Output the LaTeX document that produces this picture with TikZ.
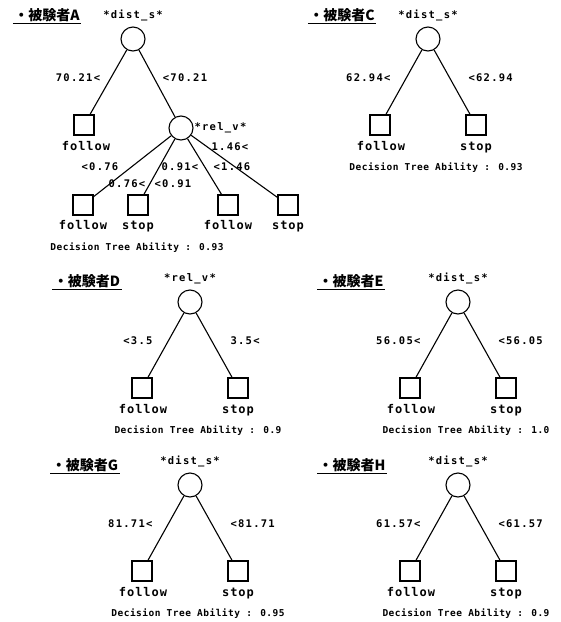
\documentclass[tikz,border=0pt]{standalone}
\usepackage{fontspec}
\newfontfamily\jpfont{Noto Sans CJK JP}
\newfontfamily\treefont[LetterSpace=12]{DejaVu Sans Mono}
\newfontfamily\wordfont[LetterSpace=8]{DejaVu Sans Mono}
\newfontfamily\accfont[LetterSpace=5]{DejaVu Sans Mono}
\usetikzlibrary{positioning}

\begin{document}
\begin{tikzpicture}[x=1pt,y=-1pt,line width=1.1pt,
 knot/.style={circle,draw,minimum size=24pt,inner sep=0pt},
 leaf/.style={rectangle,draw,minimum size=20pt,inner sep=0pt},
 lbl/.style={font=\treefont\bfseries\fontsize{10.5}{11}\selectfont,inner sep=0pt,text height=7.5pt,text depth=2pt},
 word/.style={font=\wordfont\bfseries\fontsize{12}{12}\selectfont,inner sep=0pt,text height=9pt,text depth=2.5pt},
 acc/.style={font=\accfont\bfseries\fontsize{9.5}{10}\selectfont,inner sep=0pt},
 ttl/.style={font=\jpfont\bfseries\fontsize{14}{14}\selectfont,inner sep=1pt},
 edge/.style={line width=1.1pt}]
\useasboundingbox (0,0) rectangle (561,622);
% subject A: two levels
\node[ttl] (tA) at (47,15) {・被験者A};
\draw[line width=.6pt] (tA.south west) -- (tA.south east);
\node[lbl] (vA) at (133,16) {*dist\_s*};
\node[knot] (rA) at (133,39) {};
\node[leaf] (fA) at (84,125) {};
\node[word] (wA) at (86,147) {follow};
\node[knot] (kA) at (181,128) {};
\node[lbl,anchor=west] (vkA) at (194,128) {*rel\_v*};
\draw[edge] (rA) -- (fA);
\draw[edge] (rA) -- (kA);
\node[lbl] (loA) at (78,79) {70.21<};
\node[lbl] (hiA) at (185,79) {<70.21};
\foreach \i/\lx/\w in {1/83/follow,2/138/stop,3/228/follow,4/288/stop} {
  \node[leaf] (qA\i) at (\lx,205) {};
  \node[word] (wA\i) at (\lx,226) {\w};
  \draw[edge] (kA) -- (qA\i);
}
\node[lbl] (b1A) at (100,168) {<0.76};
\node[lbl] (b2A) at (127,185) {0.76<};
\node[lbl] (b3A) at (173,185) {<0.91};
\node[lbl] (b4A) at (180,168) {0.91<};
\node[lbl] (b5A) at (232,168) {<1.46};
\node[lbl] (b6A) at (230,148) {1.46<};
\node[acc] (aA) at (137,248) {Decision Tree Ability : 0.93};
% subjects with one split
\foreach \t/\x/\y/\tx/\ty/\var/\lo/\hi/\ab in {
  C/428/39/342/15/dist\_s/62.94</<62.94/0.93,
  D/190/302/87/281/rel\_v/<3.5/3.5</0.9,
  E/458/302/351/281/dist\_s/56.05</<56.05/1.0,
  G/190/485/85/465/dist\_s/81.71</<81.71/0.95,
  H/458/485/352/465/dist\_s/61.57</<61.57/0.9} {
  \node[ttl] (t\t) at (\tx,\ty) {・被験者\t};
  \draw[line width=.6pt] (t\t.south west) -- (t\t.south east);
  \node[lbl] (v\t) at ({\x},{\y-23}) {*\var*};
  \node[knot] (r\t) at (\x,\y) {};
  \node[leaf] (f\t) at ({\x-48},{\y+86}) {};
  \node[leaf] (s\t) at ({\x+48},{\y+86}) {};
  \draw[edge] (r\t) -- (f\t);
  \draw[edge] (r\t) -- (s\t);
  \node[lbl,anchor=east] (lo\t) at ({\x-37},{\y+40}) {\lo};
  \node[lbl,anchor=west] (hi\t) at ({\x+40},{\y+40}) {\hi};
  \node[word] (wf\t) at ({\x-47},{\y+108}) {follow};
  \node[word] (ws\t) at ({\x+48},{\y+108}) {stop};
  \node[acc] (a\t) at ({\x+8},{\y+129}) {Decision Tree Ability : \ab};
}
\end{tikzpicture}
\end{document}
